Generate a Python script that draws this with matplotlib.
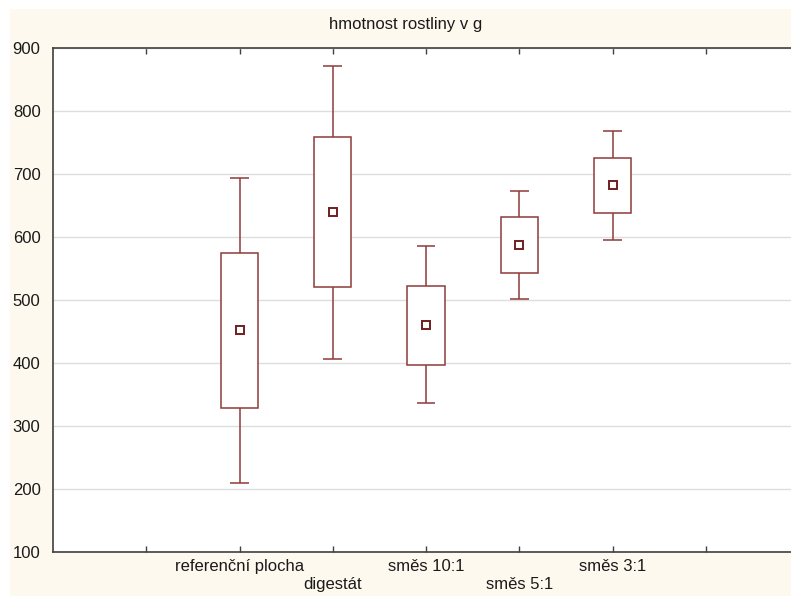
import matplotlib
matplotlib.use("Agg")
import matplotlib.pyplot as plt
import numpy as np
from matplotlib.patches import Rectangle

plt.rcParams["font.family"] = ["Liberation Sans", "DejaVu Sans"]

# values
categories = ["referenční plocha", "digestát", "směs 10:1", "směs 5:1", "směs 3:1"]
means = [452, 639, 460, 587, 682]
box_low = [328, 520, 397, 543, 638]
box_high = [575, 758, 523, 631, 726]
whisk_low = [210, 406, 336, 501, 596]
whisk_high = [693, 872, 585, 673, 768]
y_ticks = [100, 200, 300, 400, 500, 600, 700, 800, 900]

box_color = "#8e3b3b"
cream = "#fdf9ee"

fig = plt.figure(figsize=(7.91, 5.96), dpi=100)
fig.patch.set_facecolor("white")
fig.patches.append(Rectangle((10 / 791, 0), 1, 1 - 9 / 596, transform=fig.transFigure,
                             facecolor=cream, edgecolor="none", zorder=-10))

ax = fig.add_axes([53 / 791, 1 - 552 / 596, (799 - 53) / 791, (552 - 48) / 596])
ax.set_facecolor("white")
ax.set_axisbelow(True)

x = np.arange(1, len(categories) + 1)
ax.bar(x, np.array(box_high) - np.array(box_low), bottom=box_low, width=0.4,
       facecolor="white", edgecolor=box_color, linewidth=1.1, zorder=3)
ax.vlines(x, whisk_low, box_low, color=box_color, linewidth=1.1, zorder=2)
ax.vlines(x, box_high, whisk_high, color=box_color, linewidth=1.1, zorder=2)
ax.hlines(whisk_low, x - 0.1, x + 0.1, color=box_color, linewidth=1.1, zorder=2)
ax.hlines(whisk_high, x - 0.1, x + 0.1, color=box_color, linewidth=1.1, zorder=2)
ax.plot(x, means, linestyle="none", marker="s", markersize=6, markerfacecolor="white",
        markeredgecolor="#6e1f1f", markeredgewidth=1.4, zorder=4)

ax.set_xlim(-1, 7)
ax.set_ylim(100, 900)
ax.set_yticks(y_ticks)
ax.yaxis.grid(True, color="#dedede", linewidth=1.0)

labels = [""] + [c if i % 2 == 0 else "\n" + c for i, c in enumerate(categories)] + [""]
ax.set_xticks(np.arange(0, 7))
ax.set_xticklabels(labels, fontsize=12, color="#1a1a1a", linespacing=1.25)
ax.tick_params(axis="x", direction="in", length=4, width=1, color="#404040",
               top=True, pad=5)
ax.tick_params(axis="y", length=0, pad=9, labelsize=12, labelcolor="#1a1a1a")

for s in ["left", "bottom", "top"]:
    ax.spines[s].set_color("#404040")
    ax.spines[s].set_linewidth(1.2)
ax.spines["right"].set_visible(False)

fig.text(406 / 791, 1 - 25 / 596, "hmotnost rostliny v g", ha="center", va="center",
         fontsize=12, color="#1a1a1a")

fig.savefig("out.png", dpi=100)
